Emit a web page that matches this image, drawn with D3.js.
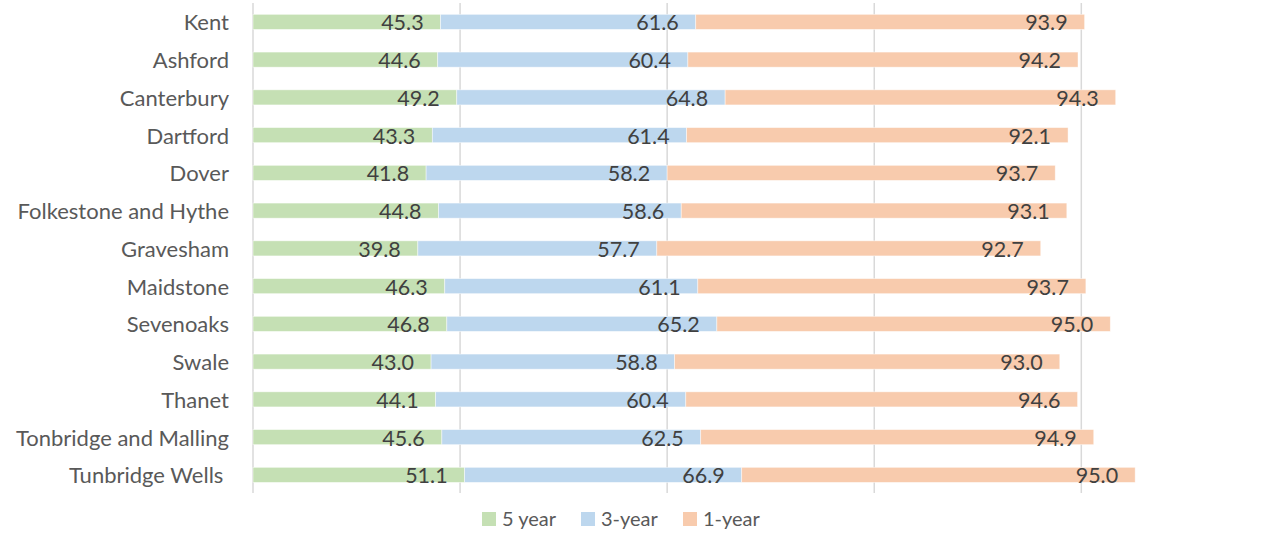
<!DOCTYPE html>
<html>
<head>
<meta charset="utf-8">
<script src="https://cdn.jsdelivr.net/npm/d3@7"></script>
<style>
  body { margin: 0; background: #fff; }
  svg { display: block; }
  text { font-family: Lato, "Open Sans", sans-serif; }
</style>
</head>
<body>
<div id="chart"></div>
<script>
// districts, top to bottom
var districts = ['Kent', 'Ashford', 'Canterbury', 'Dartford', 'Dover', 'Folkestone and Hythe',
  'Gravesham', 'Maidstone', 'Sevenoaks', 'Swale', 'Thanet', 'Tonbridge and Malling', 'Tunbridge Wells ']

var fiveYear  = [45.3, 44.6, 49.2, 43.3, 41.8, 44.8, 39.8, 46.3, 46.8, 43.0, 44.1, 45.6, 51.1]
var threeYear = [61.6, 60.4, 64.8, 61.4, 58.2, 58.6, 57.7, 61.1, 65.2, 58.8, 60.4, 62.5, 66.9]
var oneYear   = [93.9, 94.2, 94.3, 92.1, 93.7, 93.1, 92.7, 93.7, 95.0, 93.0, 94.6, 94.9, 95.0]

var seriesNames = ['5 year', '3-year', '1-year']
var colors = ['#c5e0b4', '#bdd7ee', '#f8cbad']
var gridTicks = [0, 50, 100, 150, 200, 250]

var width = 1278, height = 535

var svg = d3.select('#chart').append('svg')
  .attr('width', width)
  .attr('height', height)

// build rows for the stack
var rows = districts.map((d, i) => ({
  name: d, '5 year': fiveYear[i], '3-year': threeYear[i], '1-year': oneYear[i]
}))
var stacked = d3.stack().keys(seriesNames)(rows)

var x = d3.scaleLinear().domain([0, 250]).range([253, 1288.4])
var y = d3.scaleBand().domain(districts).range([3, 493.75])
  .paddingInner(0.6).paddingOuter(0.3)

// gridlines
svg.append('g').selectAll('line')
  .data(gridTicks)
  .join('line')
  .attr('x1', d => x(d)).attr('x2', d => x(d))
  .attr('y1', 3).attr('y2', 493)
  .attr('stroke', '#d9d9d9')
  .attr('stroke-width', 1.5)

// bars
var groups = svg.append('g').selectAll('g')
  .data(stacked)
  .join('g')
  .attr('fill', (d, i) => colors[i])

groups.selectAll('rect')
  .data(d => d)
  .join('rect')
  .attr('x', d => x(d[0]))
  .attr('y', d => y(d.data.name))
  .attr('width', d => x(d[1]) - x(d[0]))
  .attr('height', y.bandwidth())
  .attr('stroke', '#fff')
  .attr('stroke-opacity', 0.6)
  .attr('stroke-width', 0.75)

// data labels, inside end
var labelGroups = svg.append('g').selectAll('g')
  .data(stacked)
  .join('g')

labelGroups.selectAll('text')
  .data(d => d.map(v => ({ v: v, key: d.key })))
  .join('text')
  .attr('x', d => x(d.v[1]) - 17)
  .attr('y', d => y(d.v.data.name) + y.bandwidth() / 2 + 8.5)
  .attr('text-anchor', 'end')
  .attr('font-size', 21.5)
  .attr('fill', '#404040')
  .text(d => d.v.data[d.key].toFixed(1))

// category labels
svg.append('g').selectAll('text')
  .data(districts)
  .join('text')
  .attr('x', 229)
  .attr('y', d => y(d) + y.bandwidth() / 2 + 8.5)
  .attr('text-anchor', 'end')
  .attr('font-size', 22)
  .attr('fill', '#595959')
  .style('white-space', 'pre')
  .text(d => d)

// legend
var legendX = [482, 581, 683]
var legend = svg.append('g').selectAll('g')
  .data(seriesNames)
  .join('g')
  .attr('transform', (d, i) => 'translate(' + legendX[i] + ',512)')

legend.append('rect')
  .attr('width', 14).attr('height', 14)
  .attr('fill', (d, i) => colors[i])

legend.append('text')
  .attr('x', 20)
  .attr('y', 13.5)
  .attr('font-size', 20)
  .attr('fill', '#595959')
  .text(d => d)
</script>
</body>
</html>
